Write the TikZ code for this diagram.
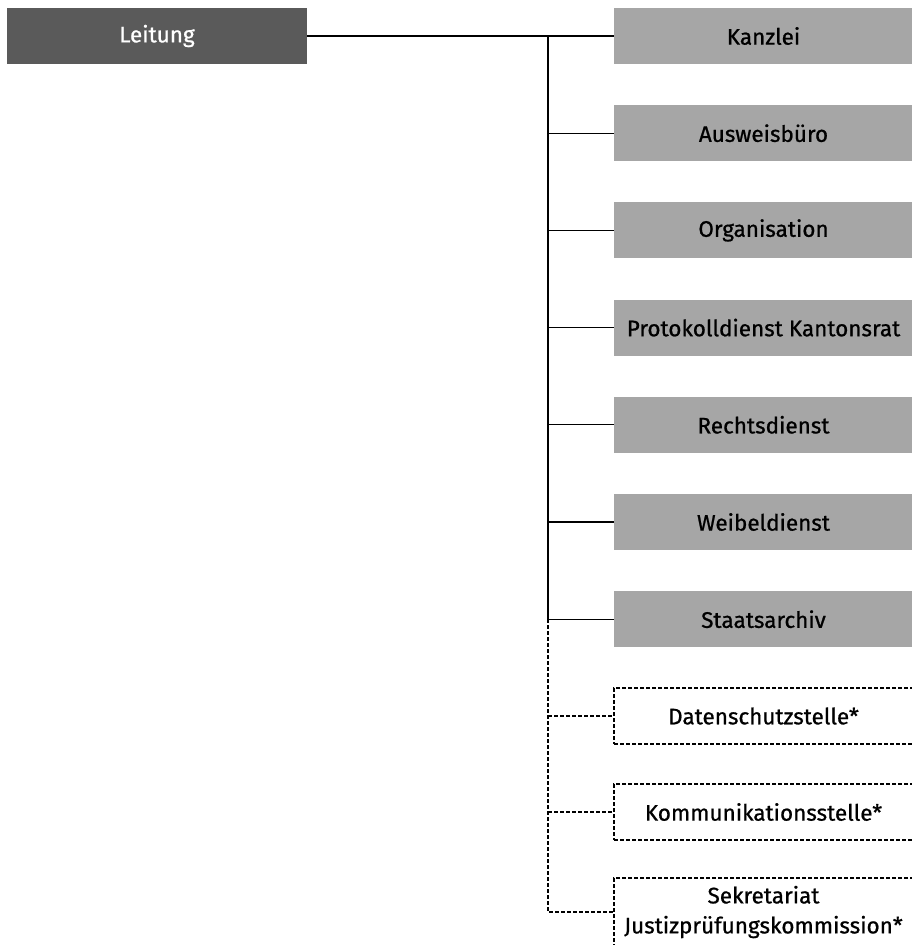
\documentclass[tikz,border=0pt]{standalone}
\usepackage{fontspec}
\setmainfont{Fira Sans}[UprightFeatures={FakeBold=0.8}]
\definecolor{leadgray}{HTML}{5A5A5A}
\definecolor{unitgray}{HTML}{A6A6A6}
\begin{document}
\begin{tikzpicture}[x=1pt,y=-1pt,
  txt/.style={font=\fontsize{22.5}{30}\selectfont},
  lead/.style={txt,fill=leadgray,text=white,minimum width=300pt,minimum height=56pt,inner sep=0pt},
  unit/.style={txt,fill=unitgray,text=black,minimum width=299pt,minimum height=56pt,inner sep=0pt},
  extunit/.style={txt,draw=black,dash pattern=on 4pt off 2pt,line width=1.1pt,text=black,minimum width=299pt,minimum height=56pt,inner sep=0pt,align=center},
  conn/.style={draw=black,line width=1.2pt},
  dconn/.style={draw=black,line width=1.1pt,dash pattern=on 4pt off 2pt}]
\useasboundingbox (0,0) rectangle (912,945);
\clip (0,0) rectangle (912,945);
\node[lead] (L) at (157,36) {Leitung};
\node[unit] (k0) at (763.5,36) {Kanzlei};
\node[unit] (k1) at (763.5,133.2) {Ausweisbüro};
\node[unit] (k2) at (763.5,230.4) {Organisation};
\node[unit] (k3) at (763.5,327.6) {Protokolldienst Kantonsrat};
\node[unit] (k4) at (763.5,424.8) {Rechtsdienst};
\node[unit] (k5) at (763.5,522) {Weibeldienst};
\node[unit] (k6) at (763.5,619.2) {Staatsarchiv};
\node[extunit] (k7) at (763.5,716) {Datenschutzstelle*};
\node[extunit] (k8) at (763.5,812) {Kommunikationsstelle*};
\node[extunit,minimum height=68pt] (k9) at (763.5,912) {Sekretariat\\Justizprüfungskommission*};
\coordinate (trunk) at (548,36);
\draw[conn] (L.east) -- (k0.west);
\draw[conn] (trunk) -- (trunk |- k6.west);
\foreach \i in {1,...,6} {\draw[conn] (trunk |- k\i.west) -- (k\i.west);}
\draw[dconn] (trunk |- k6.west) -- (trunk |- k9.west) -- (k9.west);
\draw[dconn] (trunk |- k7.west) -- (k7.west);
\draw[dconn] (trunk |- k8.west) -- (k8.west);
\end{tikzpicture}
\end{document}
